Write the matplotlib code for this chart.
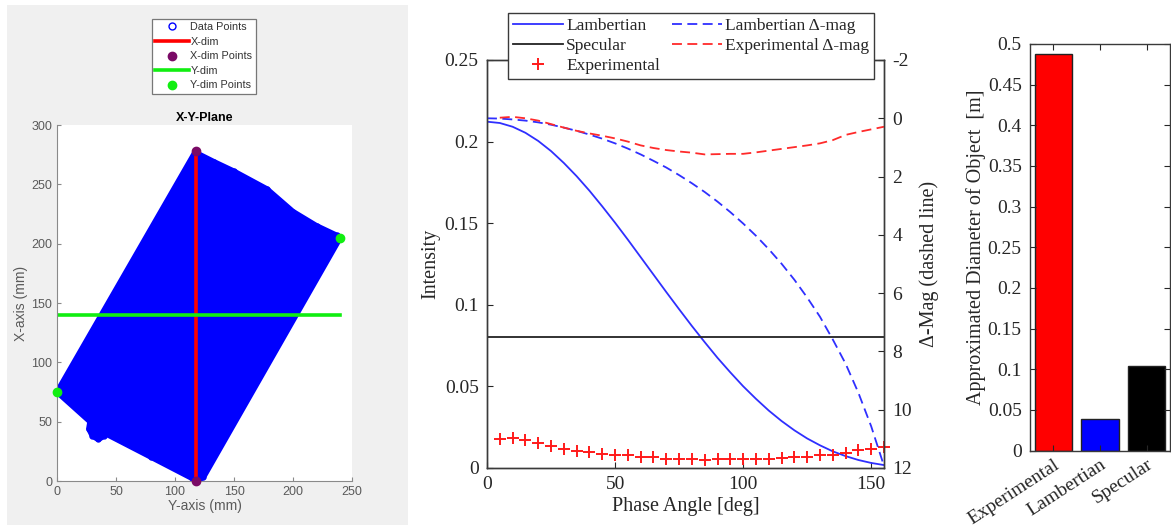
import numpy as np
import matplotlib
matplotlib.use("Agg")
import matplotlib.pyplot as plt
import matplotlib.patches as patches

plt.rcParams['axes.unicode_minus'] = False

# ---- left panel: scanned object outline in the X-Y plane (mm) ----
outline_y = [0, 28, 27, 30, 35, 40, 41, 80, 114, 118, 124, 240,
             237, 220, 200, 178, 150, 133, 117, 0]
outline_x = [75, 50, 44, 38, 35, 38, 40, 20, 2.5, 0, 3, 205,
             207, 215, 227, 246, 261, 269, 277, 75]
xdim_y = [118, 118]
xdim_x = [0, 278]
ydim_y = [0, 240]
ydim_x = [75, 205]
ydim_level = 140

# ---- middle panel: intensity vs. phase angle ----
phase = list(range(0, 160, 5))
lambert = [0.2122, 0.2114, 0.2091, 0.2054, 0.2004, 0.1942, 0.1869, 0.1788,
           0.1699, 0.1603, 0.1503, 0.1399, 0.1292, 0.1185, 0.1078, 0.0973,
           0.0870, 0.0771, 0.0675, 0.0586, 0.0501, 0.0424, 0.0352, 0.0288,
           0.0231, 0.0181, 0.0139, 0.0102, 0.0073, 0.0049, 0.0031, 0.0018]
lambert_dmag = [0.0, 0.01, 0.04, 0.08, 0.14, 0.22, 0.32, 0.43, 0.56, 0.70,
                0.86, 1.04, 1.24, 1.46, 1.69, 1.95, 2.23, 2.53, 2.86, 3.22,
                3.61, 4.03, 4.49, 4.99, 5.54, 6.15, 6.81, 7.59, 8.42, 9.42,
                10.57, 11.93]
specular_level = 0.08

exp_phase = list(range(5, 160, 5))
experimental = [0.0178, 0.0186, 0.0170, 0.0153, 0.0135, 0.0118, 0.0104,
                0.0098, 0.0086, 0.0078, 0.0078, 0.0069, 0.0065, 0.0055,
                0.0055, 0.0055, 0.0049, 0.0055, 0.0055, 0.0055, 0.0055,
                0.0055, 0.0061, 0.0065, 0.0069, 0.0078, 0.0082, 0.0094,
                0.0108, 0.0116, 0.0131]
exp_dmag = [-0.02, -0.05, 0.0, 0.08, 0.20, 0.32, 0.43, 0.52, 0.60, 0.69,
            0.80, 0.93, 1.02, 1.09, 1.14, 1.18, 1.24, 1.23, 1.22, 1.22,
            1.17, 1.11, 1.05, 0.99, 0.93, 0.86, 0.75, 0.57, 0.47, 0.38, 0.29]

# ---- right panel: estimated diameters ----
models = ['Experimental', 'Lambertian', 'Specular']
diameters = [0.4876, 0.0385, 0.1035]
bar_colors = ['#ff0000', '#0000ff', '#000000']

W, H = 1171, 529
fig = plt.figure(figsize=(W / 100, H / 100), dpi=100)
fig.patch.set_facecolor('white')


def box(l, t, r, b):
    return [l / W, 1 - b / H, (r - l) / W, (b - t) / H]


# grey MATLAB figure window behind the left plot
fig.patches.append(patches.Rectangle((7 / W, 4 / H), 401 / W, 520 / H,
                                     transform=fig.transFigure,
                                     facecolor='#f0f0f0', edgecolor='none',
                                     zorder=-5))

# ===== left: X-Y plane =====
gray = '#5a5a5a'
ax1 = fig.add_axes(box(57, 125, 352, 481))
ax1.fill(outline_y, outline_x, facecolor='#0000ff', edgecolor='#0000ff',
         lw=4, joinstyle='round', zorder=1)
ax1.plot(outline_y, outline_x, 'o', mfc='none', mec='#0000ff', ms=3.5,
         mew=1, zorder=1, label='Data Points')
ax1.plot(xdim_y, xdim_x, color='#ff0000', lw=2.6, zorder=2, label='X-dim')
ax1.plot(xdim_y, xdim_x, 'o', color='#7a0a66', ms=6, zorder=3,
         label='X-dim Points', clip_on=False)
ax1.plot(ydim_y, [ydim_level, ydim_level], color='#11ee11', lw=2.6,
         zorder=2, label='Y-dim')
ax1.plot(ydim_y, ydim_x, 'o', color='#11ee11', ms=6, zorder=3,
         label='Y-dim Points', clip_on=False)
ax1.set_xlim(0, 250)
ax1.set_ylim(0, 300)
ax1.set_xticks(range(0, 251, 50))
ax1.set_yticks(range(0, 301, 50))
for s in ['top', 'right']:
    ax1.spines[s].set_visible(False)
for s in ['left', 'bottom']:
    ax1.spines[s].set_color('#8a8a8a')
ax1.tick_params(direction='in', length=3, width=0.8, colors='#8a8a8a',
                labelcolor=gray, labelsize=9)
for t in ax1.get_xticklabels() + ax1.get_yticklabels():
    t.set_family('Liberation Sans')
ax1.set_xlabel('Y-axis (mm)', family='Liberation Sans', fontsize=10,
               color=gray, labelpad=1)
ax1.set_ylabel('X-axis (mm)', family='Liberation Sans', fontsize=10,
               color=gray, labelpad=2)
ax1.set_title('X-Y-Plane', family='Liberation Sans', fontsize=9,
              fontweight='bold', pad=3)
handles, labels = ax1.get_legend_handles_labels()
leg1 = fig.legend(handles, labels, loc='upper left',
                  bbox_to_anchor=(152 / W, 1 - 19 / H), borderaxespad=0,
                  prop={'family': 'Liberation Sans', 'size': 7.8},
                  handlelength=3.1, handletextpad=0.15, labelspacing=0.42,
                  borderpad=0.3, fancybox=False, framealpha=1,
                  edgecolor='#777777')
leg1.get_frame().set_linewidth(0.9)
leg1.legend_handles[0].set_markersize(5)
for t in leg1.get_texts():
    t.set_color('#333333')

# ===== middle: intensity and delta-mag =====
serif = 'Liberation Serif'
dark = '#262626'
ax2 = fig.add_axes(box(487, 60, 884, 468))
l1, = ax2.plot(phase, lambert, color='#2f2fff', lw=1.3, label='Lambertian')
l2 = ax2.axhline(specular_level, color='#222222', lw=1.3, label='Specular')
l3, = ax2.plot(exp_phase, experimental, '+', color='#ff1a1a', ms=8, mew=1.4,
               label='Experimental', clip_on=False)
ax2.set_xlim(0, 155)
ax2.set_ylim(0, 0.25)
ax2.set_xticks([0, 50, 100, 150])
ax2.set_yticks([0, 0.05, 0.1, 0.15, 0.2, 0.25])
ax2.set_yticklabels(['0', '0.05', '0.1', '0.15', '0.2', '0.25'])
ax2.tick_params(direction='in', length=4, width=0.8, colors=dark,
                labelsize=14, pad=6)
ax2.set_xlabel('Phase Angle [deg]', fontsize=14.5, color=dark, labelpad=3)
ax2.set_ylabel('Intensity', fontsize=14.5, color=dark, labelpad=3)

ax3 = ax2.twinx()
l4, = ax3.plot(phase, lambert_dmag, color='#2f2fff', lw=1.3,
               dashes=(5.5, 3), label='Lambertian Δ-mag')
l5, = ax3.plot(exp_phase, exp_dmag, color='#ff2a2a', lw=1.3,
               dashes=(5.5, 3), label='Experimental Δ-mag')
ax3.set_ylim(12, -2)
ax3.set_yticks(range(-2, 13, 2))
ax3.tick_params(direction='in', length=4, width=0.8, colors=dark,
                labelsize=14, pad=6)
ax3.set_ylabel('Δ-Mag (dashed line)', fontsize=14.5, color=dark, labelpad=5)
for a in (ax2, ax3):
    for s in a.spines.values():
        s.set_color('#3a3a3a')
        s.set_linewidth(1.0)
    for t in a.get_xticklabels() + a.get_yticklabels():
        t.set_family(serif)
    a.xaxis.label.set_family(serif)
    a.yaxis.label.set_family(serif)

leg2 = fig.legend([l1, l2, l3, l4, l5],
                  [h.get_label() for h in (l1, l2, l3, l4, l5)],
                  ncol=2, loc='upper left', bbox_to_anchor=(508 / W, 1 - 13 / H),
                  borderaxespad=0, prop={'family': serif, 'size': 12.5},
                  handlelength=2.85, handletextpad=0.2, labelspacing=0.2,
                  columnspacing=0.7, borderpad=0.3, fancybox=False,
                  framealpha=1, edgecolor='#3a3a3a')
leg2.get_frame().set_linewidth(1.0)
for t in leg2.get_texts():
    t.set_color(dark)

# ===== right: diameter bars =====
ax4 = fig.add_axes(box(1030, 44, 1170, 450.5))
pos = np.arange(1, len(models) + 1)
ax4.bar(pos, diameters, width=0.8, color=bar_colors, edgecolor='#222222',
        linewidth=1.0)
ax4.set_xlim(0.5, 3.5)
ax4.set_ylim(0, 0.5)
ax4.set_xticks(pos)
ax4.set_xticklabels(models, rotation=33, ha='right', rotation_mode='anchor')
ticks = [0, 0.05, 0.1, 0.15, 0.2, 0.25, 0.3, 0.35, 0.4, 0.45, 0.5]
ax4.set_yticks(ticks)
ax4.set_yticklabels(['0' if v == 0 else ('%g' % v) for v in ticks])
ax4.tick_params(direction='in', length=4, width=0.8, colors=dark,
                labelsize=14, top=True, right=True, pad=6)
ax4.tick_params(axis='x', pad=4)
ax4.set_ylabel('Approximated Diameter of Object  [m]', fontsize=14.5,
               color=dark, labelpad=1)
for s in ax4.spines.values():
    s.set_color('#3a3a3a')
    s.set_linewidth(1.0)
for t in ax4.get_xticklabels() + ax4.get_yticklabels():
    t.set_family(serif)
ax4.yaxis.label.set_family(serif)

fig.savefig('out.png', dpi=100)
